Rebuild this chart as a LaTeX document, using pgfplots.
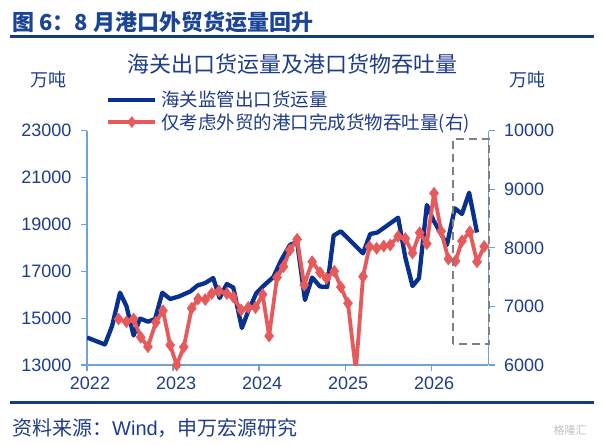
\documentclass[border=0pt]{standalone}
\usepackage{pgfplots}
\pgfplotsset{compat=1.18}
\usepackage{fontspec}
\setmainfont{Liberation Sans}
\newfontfamily\cjk{Noto Sans CJK SC}
\definecolor{headnavy}{HTML}{1A4496}
\definecolor{rulenavy}{HTML}{173A80}
\definecolor{txtnavy}{HTML}{1E3C8A}
\definecolor{lineblue}{HTML}{08308E}
\definecolor{linered}{HTML}{E65A5C}
\definecolor{axblue}{HTML}{6FA3D8}
\begin{document}
\begin{tikzpicture}[x=1pt,y=1pt]
\path[use as bounding box] (0,0) rectangle (604,445);
\node[anchor=base west, inner sep=0pt, text=headnavy, font=\cjk\bfseries\fontsize{22}{22}\selectfont] at (12,414) {图 6：8 月港口外贸货运量回升};
\draw[rulenavy, line width=2.5pt] (10,408.3) -- (594,408.3);
\node[anchor=base, inner sep=0pt, text=txtnavy, font=\cjk\fontsize{22}{22}\selectfont] at (292,372) {海关出口货运量及港口货物吞吐量};
\node[anchor=base, inner sep=0pt, text=txtnavy, font=\cjk\fontsize{18}{18}\selectfont] at (48,358) {万吨};
\node[anchor=base, inner sep=0pt, text=txtnavy, font=\cjk\fontsize{18}{18}\selectfont] at (527,358) {万吨};
\draw[rulenavy, line width=2.5pt] (10,42.3) -- (594,42.3);
\node[anchor=base west, inner sep=0pt, text=txtnavy, font=\fontsize{20}{20}\selectfont] at (12,10) {{\cjk 资料来源：}Wind{\cjk ，申万宏源研究}};
\node[anchor=base, inner sep=0pt, text=black!25, font=\cjk\fontsize{11}{11}\selectfont] at (570,11) {格隆汇};

\begin{axis}[
  at={(87pt,80pt)}, anchor=south west,
  scale only axis, width=401.5pt, height=234.3pt,
  xmin=0, xmax=56, ymin=13000, ymax=23000,
  axis x line*=bottom, axis y line*=left,
  axis line style={axblue, line width=1.5pt},
  tick style={axblue, line width=1.2pt},
  tick align=outside, major tick length=6pt,
  xtick={0,12,24,36,48}, xticklabels={2022,2023,2024,2025,2026},
  ytick={13000,15000,17000,19000,21000,23000},
  scaled ticks=false,
  /pgf/number format/assume math mode=true,
  /pgf/number format/1000 sep={},
  tick label style={font=\fontsize{18}{18}\selectfont, text=txtnavy},
  xticklabel style={xshift=3pt, yshift=-2pt},
  yticklabel style={xshift=-6pt},
]
\addplot[lineblue, line width=4.3pt, line join=round] coordinates {
(0,14174) (2.5,13875) (3.5,14665) (4.6,16086) (5.5,15518) (6.5,14259) (7.4,14985) (8.5,14848) (9.5,14963) (10.5,16086) (11.6,15817) (12.8,15924) (14.4,16137) (15.4,16393) (16.5,16500) (17.6,16713) (18.5,15860) (19.5,16457) (20.4,16308) (21.6,14579) (22.5,15305) (23.6,16060) (24.6,16372) (26.0,16756) (27.1,17481) (28.3,18122) (29.3,18262) (30.4,15774) (31.4,16734) (32.5,16350) (33.5,16329) (34.4,18527) (35.4,18706) (38.5,17767) (39.5,18591) (40.5,18655) (43.4,19287) (44.4,17588) (45.4,16372) (46.3,16700) (47.4,19829) (48.3,19189) (49.2,18700) (50.2,18122) (51.3,19688) (52.3,19445) (53.3,20354) (54.4,18655)
};
\end{axis}

\begin{axis}[
  at={(87pt,80pt)}, anchor=south west,
  scale only axis, width=401.5pt, height=234.3pt,
  xmin=0, xmax=56, ymin=6000, ymax=10000,
  axis x line=none, axis y line*=right,
  axis line style={axblue, line width=1.5pt},
  tick style={axblue, line width=1.2pt},
  tick align=outside, major tick length=6pt,
  ytick={6000,7000,8000,9000,10000},
  scaled ticks=false,
  /pgf/number format/assume math mode=true,
  /pgf/number format/1000 sep={},
  tick label style={font=\fontsize{18}{18}\selectfont, text=txtnavy},
  yticklabel style={xshift=6pt},
  legend style={at={(0.0473,1.169)}, anchor=north west, draw=none, fill=none,
    font=\cjk\fontsize{18.5}{18.5}\selectfont, text=txtnavy,
    row sep=5pt, column sep=4pt, inner sep=0pt, nodes={inner sep=0pt}},
  legend cell align=left,
  legend image code/.code={\draw[mark repeat=2,mark phase=2,#1] plot coordinates {(0pt,0pt) (23.5pt,0pt) (47pt,0pt)};},
]
\addlegendimage{lineblue, line width=4.3pt}
\addlegendentry{海关监管出口货运量}
\addlegendimage{linered, line width=3.8pt, mark=diamond*, mark size=5.5pt, mark options={solid, fill=linered, draw=linered, line width=0.5pt}}
\addlegendentry{仅考虑外贸的港口完成货物吞吐量(右)}
\addplot[linered, line width=3.8pt, line join=round, forget plot] coordinates {
(4.4,6785) (5.5,6739) (6.5,6785) (7.5,6473) (8.5,6312) (9.6,6729) (10.6,6927) (11.6,6341) (12.5,6000) (13.5,6307) (14.6,6968) (15.5,7127) (16.5,7118) (17.4,7220) (18.4,7263) (19.5,7220) (20.4,7161) (21.5,6939) (22.5,6982) (23.5,6982) (24.5,7203) (25.4,6495) (26.5,7494) (27.4,7678) (28.3,7963) (29.3,8146) (30.3,7366) (31.4,7763) (32.5,7579) (33.4,7480) (34.5,7601) (35.4,7331) (36.4,7053) (37.5,5900) (38.5,7511) (39.4,8019) (40.4,7992) (41.4,8031) (42.3,8048) (43.4,8197) (44.4,8159) (45.4,7912) (46.4,8258) (47.4,8071) (48.4,8932) (49.4,8282) (50.4,7809) (51.4,7775) (52.3,8117) (53.4,8275) (54.4,7763) (55.4,8024)
};
\addplot[only marks, mark=diamond*, mark size=6pt, mark options={fill=linered, draw=linered, line width=0.5pt}, forget plot] coordinates {
(4.4,6785) (5.5,6739) (6.5,6785) (7.5,6473) (8.5,6312) (9.6,6729) (10.6,6927) (11.6,6341) (12.5,6000) (13.5,6307) (14.6,6968) (15.5,7127) (16.5,7118) (17.4,7220) (18.4,7263) (19.5,7220) (20.4,7161) (21.5,6939) (22.5,6982) (23.5,6982) (24.5,7203) (25.4,6495) (26.5,7494) (27.4,7678) (28.3,7963) (29.3,8146) (30.3,7366) (31.4,7763) (32.5,7579) (33.4,7480) (34.5,7601) (35.4,7331) (36.4,7053) (38.5,7511) (39.4,8019) (40.4,7992) (41.4,8031) (42.3,8048) (43.4,8197) (44.4,8159) (45.4,7912) (46.4,8258) (47.4,8071) (48.4,8932) (49.4,8282) (50.4,7809) (51.4,7775) (52.3,8117) (53.4,8275) (54.4,7763) (55.4,8024)
};
\end{axis}
\draw[black!50, line width=2.5pt, dash pattern=on 8pt off 5pt] (453,101) rectangle (489,306);
\end{tikzpicture}
\end{document}
